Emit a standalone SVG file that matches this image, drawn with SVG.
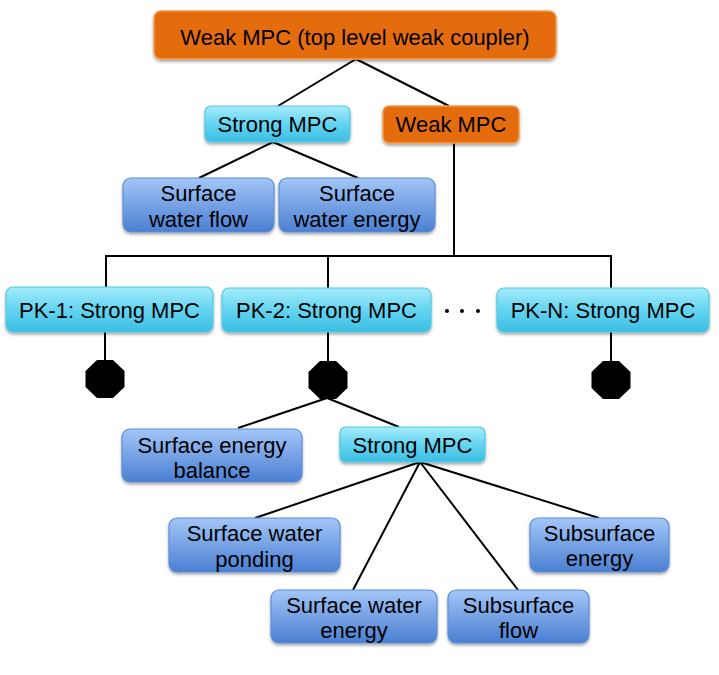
<svg xmlns="http://www.w3.org/2000/svg" width="719" height="675" viewBox="0 0 719 675">
<defs>
<linearGradient id="gBlue" x1="0" y1="0" x2="0" y2="1">
<stop offset="0" stop-color="#A3C6F7"/>
<stop offset="1" stop-color="#4A7FD2"/>
</linearGradient>
<linearGradient id="gCyan" x1="0" y1="0" x2="0" y2="1">
<stop offset="0" stop-color="#A4ECFA"/>
<stop offset="0.5" stop-color="#64D4F1"/>
<stop offset="1" stop-color="#3BBEE3"/>
</linearGradient>
<filter id="sh" x="-10%" y="-20%" width="120%" height="150%">
<feDropShadow dx="0" dy="2" stdDeviation="1.5" flood-color="#000" flood-opacity="0.35"/>
</filter>
</defs>
<style>
.orange{fill:#E46C0A;stroke:#F29A52;stroke-width:1.5;filter:url(#sh)}
.cyan{fill:url(#gCyan);stroke:#52C8E6;stroke-width:1.2;filter:url(#sh)}
.blue{fill:url(#gBlue);stroke:#5E8ED6;stroke-width:1.2;filter:url(#sh)}
text{font-family:"Liberation Sans",Arial,sans-serif;font-size:22px;fill:#000;text-anchor:middle}
.conn line,.conn polyline{stroke:#000;stroke-width:2;fill:none}
.oct{fill:#000}
</style>
<g id="connectors" class="conn">
<line x1="356" y1="59" x2="278" y2="106"/>
<line x1="356" y1="59" x2="449" y2="106"/>
<line x1="273" y1="142" x2="199" y2="178"/>
<line x1="273" y1="142" x2="358" y2="178"/>
<line x1="454" y1="143" x2="454" y2="256"/>
<polyline points="106,288 106,256 611,256 611,288"/>
<line x1="328" y1="256" x2="328" y2="288"/>
<line x1="105" y1="332" x2="105" y2="361"/>
<line x1="328" y1="332" x2="328" y2="361"/>
<line x1="611" y1="332" x2="611" y2="361"/>
<line x1="327" y1="398" x2="238" y2="428"/>
<line x1="327" y1="398" x2="399" y2="427"/>
<line x1="420" y1="462" x2="255" y2="518"/>
<line x1="420" y1="462" x2="353" y2="590"/>
<line x1="420" y1="462" x2="518" y2="590"/>
<line x1="420" y1="462" x2="599" y2="518"/>
</g>
<g id="top-weak">
<rect class="orange" x="154" y="11" width="402" height="48" rx="7"/>
<text x="355" y="45">Weak MPC (top level weak coupler)</text>
</g>
<g id="strong-1">
<rect class="cyan" x="205" y="106" width="145" height="36" rx="6"/>
<text x="277.5" y="132">Strong MPC</text>
</g>
<g id="weak-2">
<rect class="orange" x="383" y="106" width="136" height="37" rx="6"/>
<text x="451" y="132">Weak MPC</text>
</g>
<g id="sw-flow">
<rect class="blue" x="123" y="178" width="151" height="54" rx="8"/>
<text x="198.5" y="201">Surface</text>
<text x="198.5" y="227">water flow</text>
</g>
<g id="sw-energy-1">
<rect class="blue" x="279" y="178" width="156" height="54" rx="8"/>
<text x="357" y="201">Surface</text>
<text x="357" y="227">water energy</text>
</g>
<g id="pk-1">
<rect class="cyan" x="6" y="287" width="207" height="45" rx="7"/>
<text x="109.5" y="318">PK-1: Strong MPC</text>
</g>
<g id="pk-2">
<rect class="cyan" x="222" y="288" width="209" height="44" rx="7"/>
<text x="326.5" y="318">PK-2: Strong MPC</text>
</g>
<g id="ellipsis">
<circle cx="447" cy="311" r="2"/>
<circle cx="462" cy="311" r="2"/>
<circle cx="478" cy="311" r="2"/>
</g>
<g id="pk-n">
<rect class="cyan" x="497" y="288" width="212" height="44" rx="7"/>
<text x="603" y="318">PK-N: Strong MPC</text>
</g>
<g id="oct-1">
<polygon class="oct" points="97,360 113,360 124.5,371 124.5,387 113,398 97,398 85.5,387 85.5,371"/>
</g>
<g id="oct-2">
<polygon class="oct" points="320,361 336,361 347.5,372 347.5,388 336,399 320,399 308.5,388 308.5,372"/>
</g>
<g id="oct-n">
<polygon class="oct" points="603,361 619,361 630.5,372 630.5,388 619,399 603,399 591.5,388 591.5,372"/>
</g>
<g id="seb">
<rect class="blue" x="122" y="429" width="180" height="53" rx="8"/>
<text x="212" y="453">Surface energy</text>
<text x="212" y="478">balance</text>
</g>
<g id="strong-2">
<rect class="cyan" x="340" y="427" width="145" height="35" rx="6"/>
<text x="412.5" y="453">Strong MPC</text>
</g>
<g id="sw-ponding">
<rect class="blue" x="169" y="518" width="171" height="54" rx="8"/>
<text x="254.5" y="541">Surface water</text>
<text x="254.5" y="567">ponding</text>
</g>
<g id="ss-energy">
<rect class="blue" x="530" y="518" width="139" height="54" rx="8"/>
<text x="599.5" y="541">Subsurface</text>
<text x="599.5" y="566">energy</text>
</g>
<g id="sw-energy-2">
<rect class="blue" x="271" y="590" width="166" height="53" rx="8"/>
<text x="354" y="613">Surface water</text>
<text x="354" y="638">energy</text>
</g>
<g id="ss-flow">
<rect class="blue" x="448" y="590" width="141" height="53" rx="8"/>
<text x="518.5" y="613">Subsurface</text>
<text x="518.5" y="638">flow</text>
</g>
</svg>
